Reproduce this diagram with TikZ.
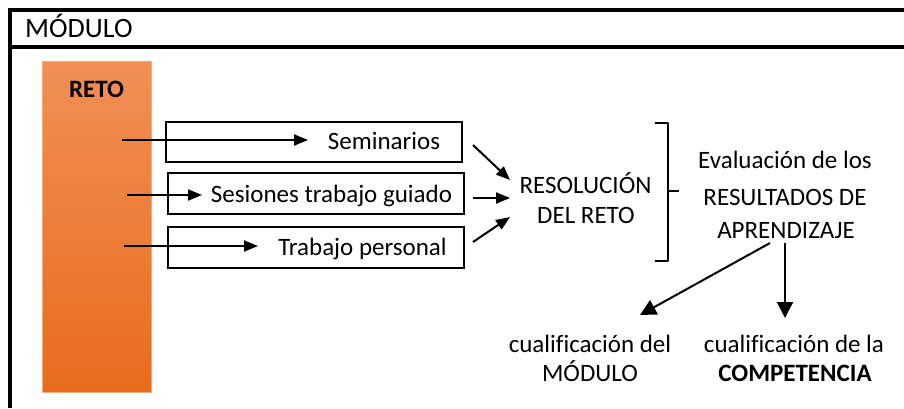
\documentclass[tikz,border=0pt]{standalone}
\usepackage{fontspec}
\setmainfont{Carlito}[Ligatures=NoCommon]
\usetikzlibrary{arrows.meta}
\definecolor{orTop}{RGB}{241,143,86}
\definecolor{orBot}{RGB}{231,108,28}
\definecolor{orEdge}{RGB}{246,170,120}
\begin{document}
\begin{tikzpicture}[x=1pt,y=-1pt,
  txt/.style={font=\fontsize{25}{30}\selectfont, inner sep=0pt, anchor=base},
  boxst/.style={draw, line width=1.3pt, inner sep=0pt},
  arr/.style={line width=2pt, -{Triangle[length=14pt,width=11pt]}},
  bigarr/.style={line width=2pt, -{Triangle[length=16pt,width=16pt]}},
  frame/.style={line width=4pt},
  brace/.style={line width=2pt, line join=round}]
\useasboundingbox (0,0) rectangle (904,408);
\fill[white] (0,0) rectangle (904,408);
% frame
\draw[frame] (10.3,408) -- (10.3,10) -- (904,10);
\draw[frame] (10.3,47) -- (904,47);
\node[txt, anchor=base west, font=\fontsize{28}{32}\selectfont] (modulo) at (25,37.7) {MÓDULO};
% orange bar
\shade[top color=orTop, bottom color=orBot, draw=orEdge, line width=0.8pt] (42,61) rectangle (151,392);
\node[txt, font=\bfseries\fontsize{25}{30}\selectfont] (reto) at (96.5,97.3) {RETO};
% boxes
\node[boxst, minimum width=296pt, minimum height=40pt] (b1) at (314,142) {};
\node[boxst, minimum width=296pt, minimum height=41pt] (b2) at (316,193.5) {};
\node[boxst, minimum width=296pt, minimum height=41pt] (b3) at (316,247.5) {};
\node[txt] (t1) at (384,149) {Seminarios};
\node[txt] (t2) at (331.5,202) {Sesiones trabajo guiado};
\node[txt] (t3) at (362.5,255) {Trabajo personal};
% arrows from RETO
\coordinate (s1) at (122,140); \coordinate (e1) at (308,140);
\coordinate (s2) at (127,195); \coordinate (e2) at (202,195);
\coordinate (s3) at (124,246); \coordinate (e3) at (258,246);
\draw[arr] (s1) -- (e1);
\draw[arr] (s2) -- (e2);
\draw[arr] (s3) -- (e3);
% resolucion
\node[txt] (r1) at (585.5,193) {RESOLUCIÓN};
\node[txt] (r2) at (586,223) {DEL RETO};
\coordinate (c1) at (473,145); \coordinate (d1) at (510,180);
\coordinate (c2) at (473,198); \coordinate (d2) at (510,198);
\coordinate (c3) at (473,242); \coordinate (d3) at (510,217);
\draw[arr] (c1) -- (d1);
\draw[arr] (c2) -- (d2);
\draw[arr] (c3) -- (d3);
% brace
\coordinate (brT) at (655,123); \coordinate (brB) at (655,261);
\coordinate (brM) at (668,191); \coordinate (brTip) at (679,191);
\draw[brace] (brT) -- (668,123) -- (668,261) -- (brB);
\draw[brace] (brM) -- (brTip);
% evaluacion
\node[txt] (ev1) at (785,168) {Evaluación de los};
\node[txt] (ev2) at (785,205) {RESULTADOS DE};
\node[txt] (ev3) at (786,238) {APRENDIZAJE};
\coordinate (f1) at (770,243); \coordinate (g1) at (640,315);
\coordinate (f2) at (785,243); \coordinate (g2) at (785,318);
\draw[bigarr] (f1) -- (g1);
\draw[bigarr] (f2) -- (g2);
% outcomes
\node[txt] (q1) at (590,352.7) {cualificación del};
\node[txt] (q2) at (590,381.7) {MÓDULO};
\node[txt] (q3) at (794,352.7) {cualificación de la};
\node[txt, font=\bfseries\fontsize{25}{30}\selectfont] (q4) at (795,381.7) {COMPETENCIA};
\end{tikzpicture}
\end{document}
